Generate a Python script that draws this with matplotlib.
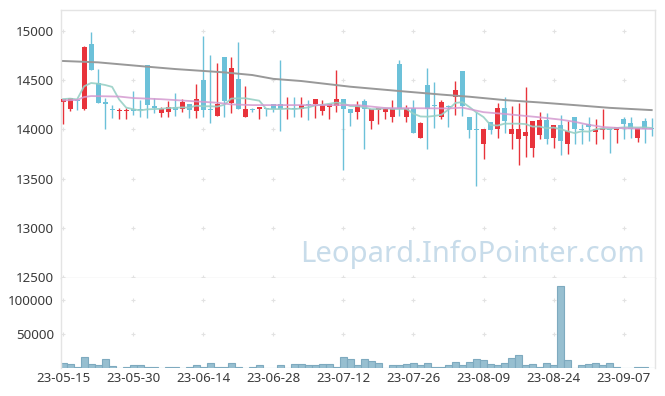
import numpy as np
import pandas as pd
import matplotlib
matplotlib.use('Agg')
import matplotlib.pyplot as plt

plt.rcParams['font.family'] = ['Noto Sans', 'DejaVu Sans']

#%% Datos
opens = [14282, 14204, 14300, 14210, 14870, 14472, 14278, 14207, 14184, 14184,
         14207, 14200, 14656, 14238, 14170, 14180, 14231, 14204, 14255, 14190,
         14503, 14207, 14139, 14737, 14271, 14513, 14129, 14204, 14204, 14220,
         14255, 14255, 14204, 14217, 14204, 14258, 14255, 14190, 14231, 14241,
         14309, 14207, 14173, 14289, 14088, 14197, 14180, 14129, 14666, 14129,
         14214, 13908, 14452, 14248, 14122, 14241, 14326, 14595, 14122, 14005,
         13853, 14071, 14000, 14214, 13957, 13898, 13935, 13816, 13947, 14095,
         13908, 14042, 13857, 14122, 14003, 14051, 13976, 13993, 14003, 13995,
         14105, 14061, 13916, 14085, 14005]
highs = [14310, 14320, 14305, 14850, 14989, 14615, 14322, 14248, 14217, 14217,
         14390, 14299, 14656, 14322, 14231, 14292, 14370, 14309, 14255, 14459,
         14950, 14755, 14679, 14737, 14734, 14887, 14439, 14215, 14231, 14220,
         14255, 14707, 14326, 14333, 14326, 14299, 14306, 14299, 14255, 14605,
         14309, 14207, 14289, 14309, 14204, 14214, 14207, 14296, 14707, 14248,
         14299, 14078, 14622, 14486, 14296, 14248, 14496, 14595, 14122, 14180,
         14000, 14071, 14265, 14333, 14241, 14265, 14435, 14085, 14180, 14169,
         14042, 14150, 14090, 14122, 14060, 14129, 14102, 14204, 14003, 14030,
         14129, 14129, 14010, 14112, 14112]
lows = [14054, 14190, 14200, 14200, 14608, 14271, 14003, 14112, 14105, 14105,
        14146, 14129, 14118, 14163, 14122, 14125, 14139, 14180, 14112, 14112,
        14129, 14067, 14139, 14125, 14163, 14210, 14129, 14180, 14102, 14139,
        14173, 13986, 14102, 14129, 14129, 14095, 14112, 14146, 14102, 14180,
        13585, 14034, 14102, 13806, 14000, 14057, 14102, 14071, 14139, 14071,
        13965, 13908, 13806, 14016, 14105, 14027, 14150, 14140, 13908, 13422,
        13704, 13949, 13908, 13965, 13806, 13636, 13721, 13721, 13898, 13857,
        13816, 13735, 13755, 13850, 13857, 13884, 13857, 13898, 13765, 13867,
        13898, 13918, 13870, 13867, 13932]
closes = [14309, 14319, 14290, 14839, 14608, 14271, 14255, 14194, 14197, 14197,
          14187, 14194, 14248, 14214, 14207, 14228, 14200, 14275, 14200, 14309,
          14197, 14200, 14258, 14292, 14625, 14210, 14204, 14194, 14231, 14204,
          14204, 14204, 14217, 14204, 14248, 14250, 14306, 14248, 14255, 14309,
          14204, 14170, 14248, 14204, 14204, 14214, 14207, 14214, 14204, 14214,
          13965, 14064, 14204, 14241, 14275, 14231, 14401, 14241, 13993, 13998,
          14000, 13993, 14214, 14088, 14000, 14000, 13972, 14085, 14095, 13906,
          14042, 13884, 13982, 14000, 13998, 14027, 14003, 14016, 13998, 14030,
          14059, 14003, 14010, 14003, 14000]
volumes = [6900, 5400, 2000, 15700, 5400, 4000, 12800, 3000, 500, 1500,
           4000, 4000, 2000, 2000, 500, 1500, 1500, 500, 1500, 4000,
           2000, 6900, 1500, 1500, 6900, 2000, 500, 1500, 4000, 300,
           300, 4000, 300, 5400, 5400, 4000, 4000, 5400, 5400, 1000,
           15700, 12800, 4000, 12800, 9800, 6900, 300, 4000, 4000, 5400,
           6900, 4000, 6900, 2000, 2000, 4000, 8300, 4000, 8300, 12800,
           11300, 5400, 4000, 6900, 14200, 18600, 4000, 5400, 2000, 6900,
           4000, 120600, 11300, 300, 4000, 5400, 6900, 4000, 6900, 2000,
           300, 300, 1500, 1500, 300]

ma_mid_idx = [0, 2, 3, 4, 8, 10, 14, 18, 22, 24, 27, 42, 46, 55, 57, 60, 63,
              68, 71, 73, 75, 77, 80, 84]
ma_mid = [14296, 14300, 14330, 14340, 14335, 14320, 14308, 14290, 14272, 14255,
          14248, 14248, 14218, 14214, 14222, 14176, 14158, 14124, 14100, 14078,
          14048, 14025, 14012, 14005]
ma_long_idx = [0, 5, 12, 16, 23, 27, 30, 34, 41, 48, 54, 58, 63, 68, 73, 78, 84]
ma_long = [14697, 14683, 14639, 14615, 14581, 14554, 14515, 14493, 14435, 14391,
           14355, 14333, 14299, 14275, 14248, 14220, 14197]

tick_idx = [0, 10, 20, 30, 40, 50, 60, 70, 80]
tick_labels = ['23-05-15', '23-05-30', '23-06-14', '23-06-28', '23-07-12',
               '23-07-26', '23-08-09', '23-08-24', '23-09-07']
price_ticks = [12500, 13000, 13500, 14000, 14500, 15000]
vol_ticks = [50000, 100000]

#%% Figura
c_up, c_down = '#e8333b', '#6cc1d9'
c_grid = '#e2e2e2'
c_txt = '#3a3a3a'

fig = plt.figure(figsize=(6.65, 3.96), dpi=100)
ax = fig.add_axes([0.0917, 0.298, 0.893, 0.677])
axv = fig.add_axes([0.0917, 0.0707, 0.893, 0.2273], sharex=ax)

x = np.arange(len(closes))
o, h, l, c = map(np.array, (opens, highs, lows, closes))
up = c >= o
cols = np.where(up, c_up, c_down)

ax.vlines(x, l, h, colors=cols, lw=1, zorder=2)
ax.bar(x, np.maximum(np.abs(c - o), 10), bottom=np.minimum(o, c), width=0.72,
       color=cols, zorder=3)

ma5 = pd.Series(c).rolling(5, min_periods=1).mean()
ax.plot(x, ma5, color='#98d0c6', lw=1.3, alpha=0.9, zorder=4)
ax.plot(ma_mid_idx, ma_mid, color='#d49ad0', lw=1.3, alpha=0.85, zorder=4)
ax.plot(ma_long_idx, ma_long, color='#999999', lw=1.4, zorder=4)

axv.bar(x, volumes, width=1.0, color='#97bfd0', edgecolor='#7eaabf', lw=0.8)

# cruces de grilla
gx, gy = np.meshgrid(tick_idx, price_ticks)
ax.scatter(gx.ravel(), gy.ravel(), marker='+', s=10, color=c_grid, lw=0.8, zorder=1)
gx, gy = np.meshgrid(tick_idx, vol_ticks)
axv.scatter(gx.ravel(), gy.ravel(), marker='+', s=10, color=c_grid, lw=0.8, zorder=1)

ax.set_ylim(12488, 15217)
ax.set_xlim(-0.3, 84.45)
axv.set_ylim(0, 132000)

ax.set_yticks(price_ticks)
axv.set_yticks(vol_ticks)
axv.set_xticks(tick_idx)
axv.set_xticklabels(tick_labels)
ax.tick_params(axis='x', bottom=False, labelbottom=False)
for a in (ax, axv):
    a.tick_params(length=0, labelsize=9.6, colors=c_txt, pad=5)
    for s in a.spines.values():
        s.set_color('#e4e4e4')
        s.set_linewidth(1)
axv.spines['bottom'].set_visible(False)
axv.spines['top'].set_visible(False)
axv.tick_params(axis='x', pad=3)

fig.text(645 / 665, 1 - 262 / 396, 'Leopard.InfoPointer.com', ha='right',
         va='baseline', fontsize=21, color='#c8dcea', zorder=0)

fig.savefig('out.png', dpi=100)
